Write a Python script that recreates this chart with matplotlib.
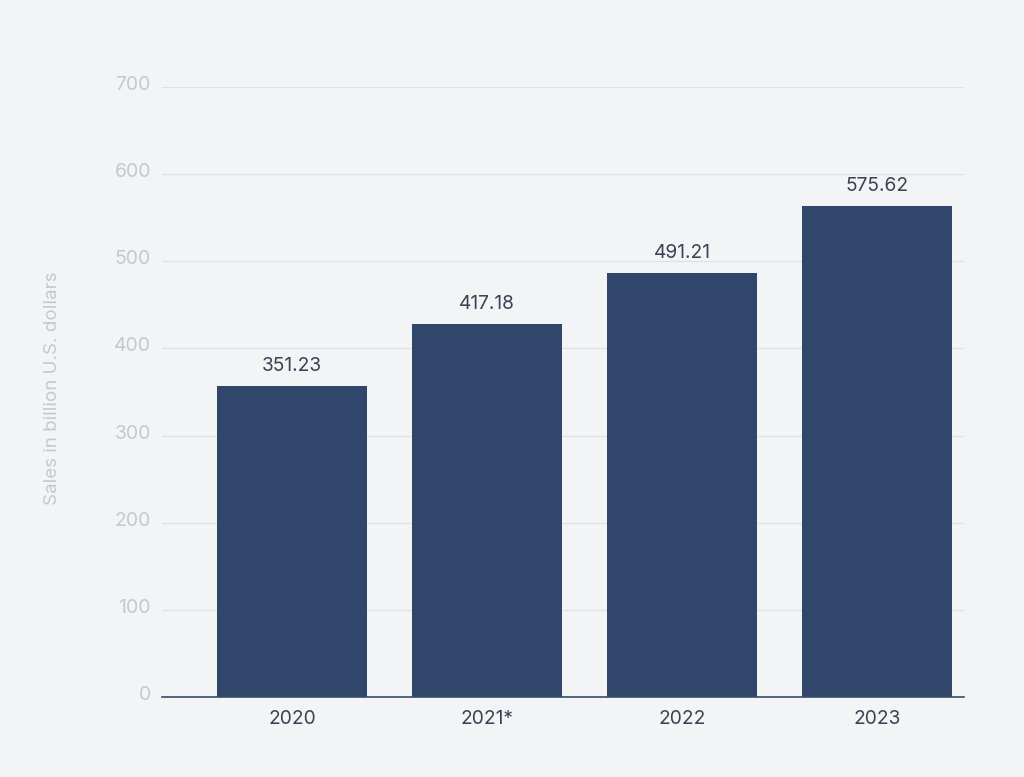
import matplotlib
matplotlib.use("Agg")
import matplotlib.pyplot as plt
import matplotlib.transforms as mtransforms

categories = ["2020", "2021*", "2022", "2023"]
bar_values = [357, 428, 486, 563]
value_labels = ["351.23", "417.18", "491.21", "575.62"]
y_ticks = [0, 100, 200, 300, 400, 500, 600, 700]

bg = "#f3f4f6"
bar_color = "#31466b"
text_dark = "#3a4254"
tick_grey = "#c6c8cc"

plt.rcParams['font.family'] = ['Inter', 'DejaVu Sans']

fig = plt.figure(figsize=(10.24, 7.77), dpi=100, facecolor=bg)
ax = fig.add_axes([162/1024, 1-697/777, (964-162)/1024, (697-87)/777])
ax.set_facecolor(bg)

x = list(range(len(categories)))
ax.bar(x, bar_values, width=0.77, color=bar_color, zorder=3)
for xi, v, lab in zip(x, bar_values, value_labels):
    ax.annotate(lab, (xi, v), xytext=(0, 8), textcoords="offset points",
                ha="center", va="bottom", fontsize=13.8, color=text_dark)

ax.set_xlim(-0.667, 3.446)
ax.set_ylim(0, 700)
ax.set_yticks(y_ticks)
ax.set_yticklabels([str(t) for t in y_ticks])
ax.set_xticks(x)
ax.set_xticklabels(categories)
ax.tick_params(axis='y', length=0, pad=8, labelsize=14, labelcolor=tick_grey)
ax.tick_params(axis='x', length=0, pad=9, labelsize=13.8, labelcolor=text_dark)
offset = mtransforms.ScaledTranslation(0, 4/100, fig.dpi_scale_trans)
for lbl in ax.get_yticklabels():
    lbl.set_transform(lbl.get_transform() + offset)
ax.grid(axis='y', color="#dfe1e5", linewidth=0.9, zorder=0)
for s in ["top", "right", "left"]:
    ax.spines[s].set_visible(False)
ax.spines["bottom"].set_color("#3a4a6b")
ax.spines["bottom"].set_linewidth(1.2)
ax.spines["bottom"].set_zorder(4)

fig.text(53/1024, 1-388/777, "Sales in billion U.S. dollars", rotation=90,
         ha="center", va="center", fontsize=13.5, color=tick_grey)

fig.savefig("out.png", dpi=100, facecolor=bg)
